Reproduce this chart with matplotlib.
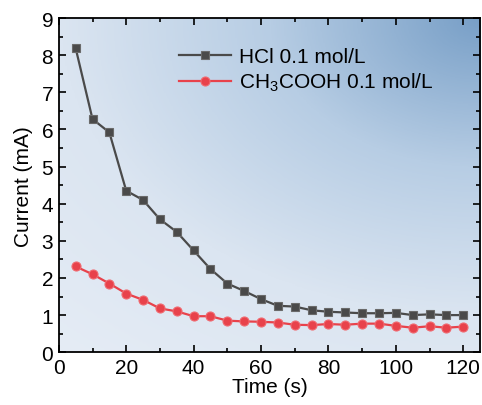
import matplotlib
matplotlib.use('Agg')
import matplotlib.pyplot as plt
import numpy as np
from matplotlib.colors import LinearSegmentedColormap
from matplotlib.ticker import MultipleLocator

plt.rcParams['font.family'] = ['Liberation Sans', 'DejaVu Sans']
plt.rcParams['mathtext.fontset'] = 'custom'
plt.rcParams['mathtext.rm'] = 'Liberation Sans'
plt.rcParams['mathtext.it'] = 'Liberation Sans'

# data
time_s = [5, 10, 15, 20, 25, 30, 35, 40, 45, 50, 55, 60,
          65, 70, 75, 80, 85, 90, 95, 100, 105, 110, 115, 120]
hcl_ma = [8.19, 6.28, 5.92, 4.35, 4.10, 3.58, 3.24, 2.74, 2.24, 1.85, 1.65, 1.43,
          1.25, 1.23, 1.13, 1.09, 1.07, 1.05, 1.05, 1.06, 1.00, 1.02, 1.00, 1.00]
acetic_ma = [2.31, 2.10, 1.85, 1.58, 1.41, 1.18, 1.10, 0.97, 0.97, 0.85, 0.83, 0.82,
             0.80, 0.74, 0.73, 0.76, 0.74, 0.77, 0.77, 0.71, 0.66, 0.70, 0.66, 0.69]
labels = ['HCl 0.1 mol/L', r'CH$_3$COOH 0.1 mol/L']

fig = plt.figure(figsize=(4.82, 4.06), dpi=100)
ax = fig.add_axes([0.122, 0.130, 0.874, 0.823])

# background gradient, darker toward the top right corner
gx, gy = np.meshgrid(np.linspace(0, 1, 300), np.linspace(0, 1, 300))
dist = np.sqrt((1 - gx) ** 2 * 0.8 + (1 - gy) ** 2) / np.sqrt(1.8)
cmap = LinearSegmentedColormap.from_list('bg', ['#789fc7', '#b7cde4', '#dbe5f1', '#e5ecf5'])
ax.imshow(dist, cmap=cmap, extent=[0, 1, 0, 1], origin='lower',
          transform=ax.transAxes, aspect='auto', zorder=0, vmin=0, vmax=1)

ax.plot(time_s, hcl_ma, '-s', color='#4a4a4a', lw=1.6, ms=6,
        mec='#6a6a6a', mew=0.8, label=labels[0], zorder=3)
ax.plot(time_s, acetic_ma, '-o', color='#e8424b', lw=1.6, ms=6.5,
        mec='#f06a70', mew=0.8, label=labels[1], zorder=3)

ax.set_xlim(0, 125)
ax.set_ylim(0, 9)
ax.xaxis.set_major_locator(MultipleLocator(20))
ax.xaxis.set_minor_locator(MultipleLocator(10))
ax.yaxis.set_major_locator(MultipleLocator(1))
ax.yaxis.set_minor_locator(MultipleLocator(0.5))
ax.tick_params(which='both', direction='in', top=True, right=True, width=1.2)
ax.tick_params(which='major', length=5, labelsize=15, pad=4)
ax.tick_params(which='minor', length=3)
for s in ax.spines.values():
    s.set_linewidth(1.3)

ax.set_xlabel('Time (s)', fontsize=15, labelpad=0)
ax.set_ylabel('Current (mA)', fontsize=15, labelpad=6)

ax.legend(loc='upper left', bbox_to_anchor=(0.24, 0.97), frameon=False,
          fontsize=15, handlelength=2.5, handletextpad=0.4, labelspacing=0.25)

fig.savefig('out.png', dpi=100)
